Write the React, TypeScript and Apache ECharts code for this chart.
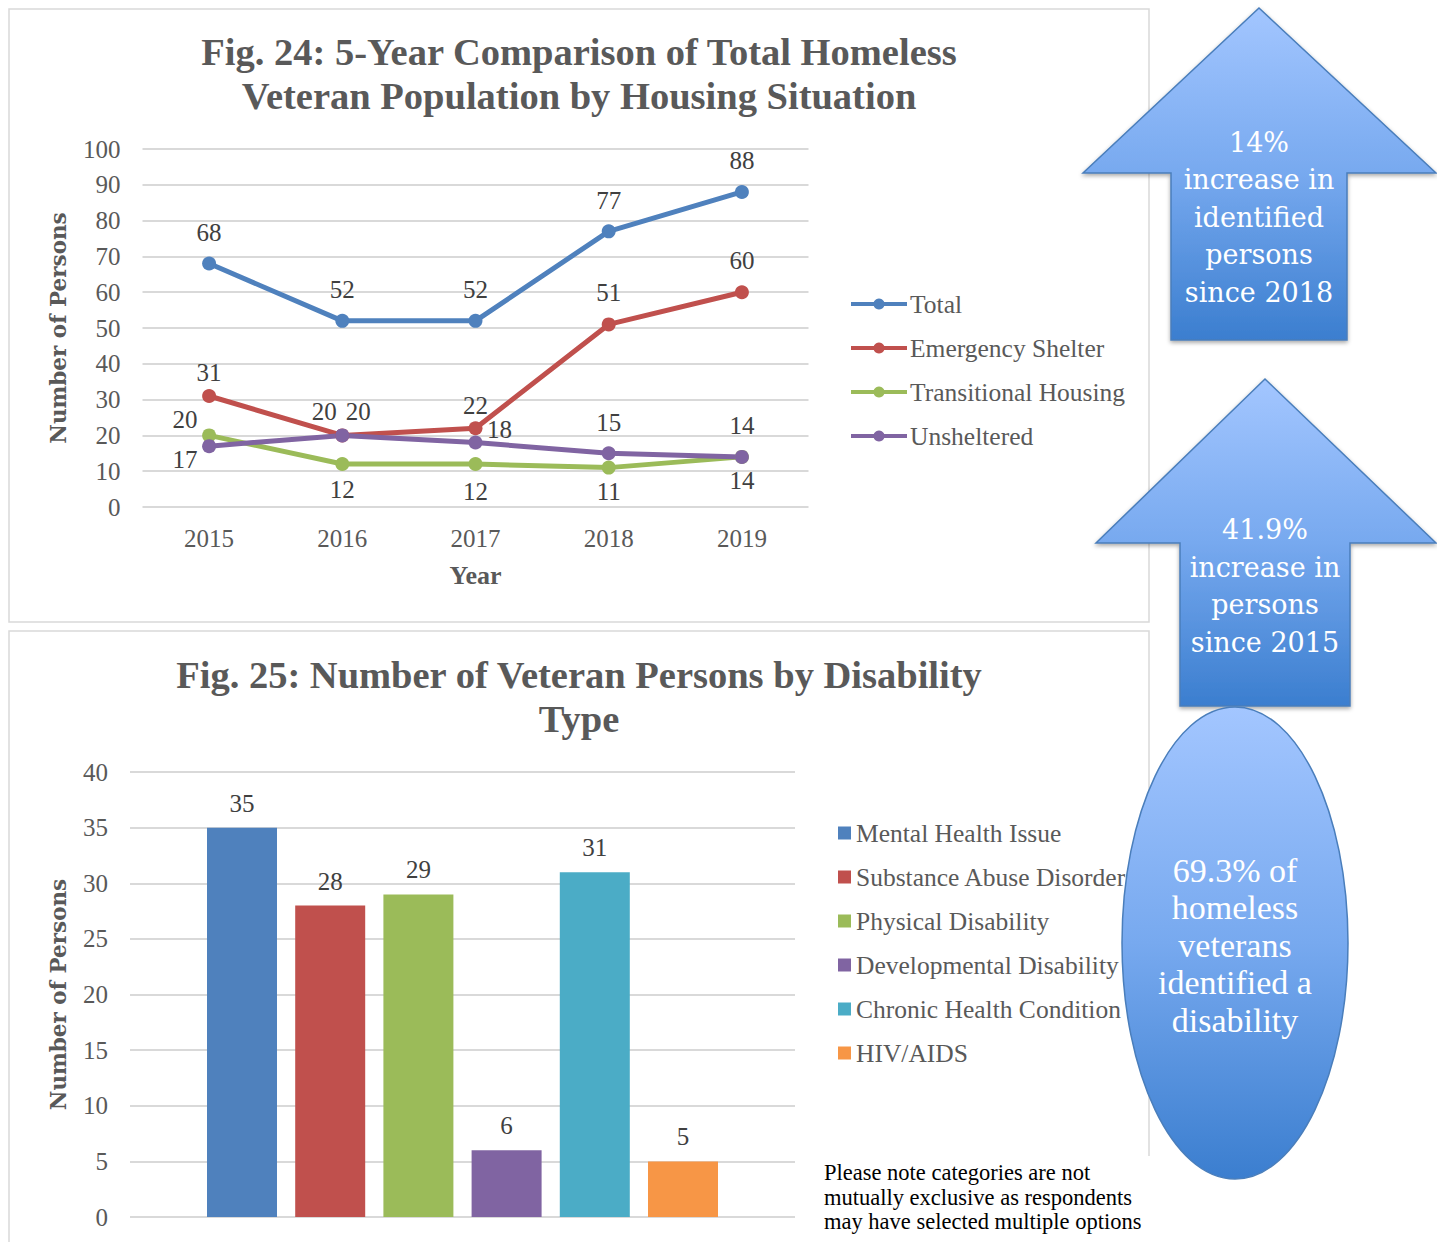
import React, { useEffect, useRef } from "react";
import * as echarts from "echarts";

const years = ["2015", "2016", "2017", "2018", "2019"];
const totalValues = [68, 52, 52, 77, 88];
const emergencyValues = [31, 20, 22, 51, 60];
const transitionalValues = [20, 12, 12, 11, 14];
const unshelteredValues = [17, 20, 18, 15, 14];
const lineSeriesNames = ["Total", "Emergency Shelter", "Transitional Housing", "Unsheltered"];
const lineColors = ["#4f81bd", "#c0504d", "#9bbb59", "#8064a2"];

const disabilityTypes = [
  "Mental Health Issue",
  "Substance Abuse Disorder",
  "Physical Disability",
  "Developmental Disability",
  "Chronic Health Condition",
  "HIV/AIDS",
];
const disabilityCounts = [35, 28, 29, 6, 31, 5];
const barColors = ["#4f81bd", "#c0504d", "#9bbb59", "#8064a2", "#4bacc6", "#f79646"];

const title1 = "Fig. 24: 5-Year Comparison of Total Homeless\nVeteran Population by Housing Situation";
const title2 = "Fig. 25: Number of Veteran Persons by Disability\nType";
const arrow1Text = "14%\nincrease in\nidentified\npersons\nsince 2018";
const arrow2Text = "41.9%\nincrease in\npersons\nsince 2015";
const ellipseText = "69.3% of\nhomeless\nveterans\nidentified a\ndisability";
const noteText = "Please note categories are not\nmutually exclusive as respondents\nmay have selected multiple options";

const FONT = "Liberation Serif";

// label offsets (styling) per line series
const labelOffsets: number[][][] = [
  [[0, -31], [0, -31], [0, -31], [0, -31], [0, -31]],
  [[0, -24], [-18, -24], [0, -23], [0, -32], [0, -32]],
  [[-24, -16], [0, 25], [0, 27], [0, 24], [0, 24]],
  [[-24, 13], [16, -24], [24, -13], [0, -31], [0, -31]],
];

export default function App() {
  const ref = useRef<HTMLDivElement>(null);
  useEffect(() => {
    if (!ref.current) return;
    const chart = echarts.init(ref.current, undefined, { renderer: "svg" });
    const lineData = [totalValues, emergencyValues, transitionalValues, unshelteredValues];

    const grad = () =>
      new echarts.graphic.LinearGradient(0, 0, 0, 1, [
        { offset: 0, color: "#a3c6ff" },
        { offset: 0.5, color: "#77a9ef" },
        { offset: 1, color: "#3b7ecf" },
      ]);

    const whiteText = (x: number, y: number, text: string, size: number, family: string, lh: number) => ({
      type: "text",
      x,
      y,
      z: 20,
      style: {
        text,
        fill: "#ffffff",
        fontSize: size,
        fontFamily: family,
        lineHeight: lh,
        align: "center",
        verticalAlign: "middle",
        textAlign: "center",
        textVerticalAlign: "middle",
      },
    });

    const titleText = (y: number, text: string) => ({
      type: "text",
      x: 579,
      y,
      style: {
        text,
        fill: "#595959",
        fontSize: 38.5,
        fontWeight: "bold",
        fontFamily: FONT,
        lineHeight: 44,
        align: "center",
        verticalAlign: "middle",
        textAlign: "center",
        textVerticalAlign: "middle",
      },
    });

    const option: any = {
      animation: false,
      textStyle: { fontFamily: FONT },
      grid: [
        { left: 142.5, right: 1437 - 808.5, top: 149, bottom: 1242 - 507 },
        { left: 130, right: 1437 - 795, top: 772, bottom: 1242 - 1217 },
      ],
      xAxis: [
        {
          type: "category",
          gridIndex: 0,
          data: years,
          boundaryGap: true,
          axisLine: { show: false },
          axisTick: { show: false },
          axisLabel: { fontSize: 25, color: "#595959", margin: 19, fontFamily: FONT },
          name: "Year",
          nameLocation: "middle",
          nameGap: 55,
          nameTextStyle: { fontSize: 26, fontWeight: "bold", color: "#595959", fontFamily: FONT },
        },
        {
          type: "category",
          gridIndex: 1,
          data: [""],
          axisLine: { show: false },
          axisTick: { show: false },
          axisLabel: { show: false },
        },
      ],
      yAxis: [
        {
          type: "value",
          gridIndex: 0,
          min: 0,
          max: 100,
          interval: 10,
          axisLine: { show: false },
          axisTick: { show: false },
          axisLabel: { fontSize: 25, color: "#595959", margin: 22, fontFamily: FONT },
          splitLine: { lineStyle: { color: "#d9d9d9", width: 2 } },
          name: "Number of Persons",
          nameLocation: "middle",
          nameRotate: 90,
          nameGap: 73,
          nameTextStyle: { fontSize: 21.5, fontWeight: "bold", color: "#595959", fontFamily: "DejaVu Serif" },
        },
        {
          type: "value",
          gridIndex: 1,
          min: 0,
          max: 40,
          interval: 5,
          axisLine: { show: false },
          axisTick: { show: false },
          axisLabel: { fontSize: 25, color: "#595959", margin: 22, fontFamily: FONT },
          splitLine: { lineStyle: { color: "#d9d9d9", width: 2 } },
          name: "Number of Persons",
          nameLocation: "middle",
          nameRotate: 90,
          nameGap: 61,
          nameTextStyle: { fontSize: 21.5, fontWeight: "bold", color: "#595959", fontFamily: "DejaVu Serif" },
        },
      ],
      legend: [
        {
          data: lineSeriesNames,
          orient: "vertical",
          left: 849,
          top: 291,
          padding: 0,
          itemWidth: 56,
          itemHeight: 14,
          itemGap: 18,
          lineStyle: { width: 4 },
          textStyle: { fontSize: 25.5, color: "#595959", lineHeight: 24, fontFamily: FONT, padding: [0, 0, 0, -2] },
        },
        {
          data: disabilityTypes,
          orient: "vertical",
          left: 838,
          top: 820,
          padding: 0,
          icon: "rect",
          itemWidth: 13,
          itemHeight: 13,
          itemGap: 18,
          textStyle: { fontSize: 25.5, color: "#595959", lineHeight: 24, fontFamily: FONT, padding: [0, 0, 0, 0] },
        },
      ],
      series: [
        ...lineSeriesNames.map((name, si) => ({
          type: "line",
          name,
          xAxisIndex: 0,
          yAxisIndex: 0,
          color: lineColors[si],
          symbol: "circle",
          symbolSize: 14,
          lineStyle: { width: 5, color: lineColors[si] },
          itemStyle: { color: lineColors[si] },
          emphasis: { disabled: true },
          label: {
            show: true,
            position: "inside",
            fontSize: 25,
            color: "#404040",
            fontFamily: FONT,
          },
          data: lineData[si].map((v, i) => ({
            value: v,
            label: { offset: labelOffsets[si][i] },
          })),
        })),
        ...disabilityTypes.map((name, si) => ({
          type: "bar",
          name,
          xAxisIndex: 1,
          yAxisIndex: 1,
          barWidth: 70,
          barGap: "26%",
          color: barColors[si],
          itemStyle: { color: barColors[si] },
          emphasis: { disabled: true },
          label: {
            show: true,
            position: "top",
            distance: 12,
            fontSize: 25,
            color: "#404040",
            fontFamily: FONT,
          },
          data: [disabilityCounts[si]],
        })),
      ],
      graphic: [
        {
          type: "rect",
          z: 0,
          shape: { x: 9, y: 9, width: 1140, height: 613 },
          style: { fill: "none", stroke: "#d9d9d9", lineWidth: 1.5 },
        },
        {
          type: "rect",
          z: 0,
          shape: { x: 9, y: 631, width: 1140, height: 640 },
          style: { fill: "none", stroke: "#d9d9d9", lineWidth: 1.5 },
        },
        titleText(74, title1),
        titleText(697, title2),
        {
          type: "rect",
          z: 5,
          shape: { x: 812, y: 1156, width: 340, height: 90 },
          style: { fill: "#ffffff" },
        },
        {
          type: "text",
          x: 824,
          y: 1197,
          z: 6,
          style: {
            text: noteText,
            fill: "#000000",
            fontSize: 22.5,
            fontFamily: FONT,
            lineHeight: 24.5,
            align: "left",
            verticalAlign: "middle",
            textAlign: "left",
            textVerticalAlign: "middle",
          },
        },
        {
          type: "polygon",
          z: 10,
          shape: {
            points: [
              [1259, 8],
              [1436, 173],
              [1347, 173],
              [1347, 340],
              [1171, 340],
              [1171, 173],
              [1083, 173],
            ],
          },
          style: {
            fill: grad(),
            stroke: "#4a7ebb",
            lineWidth: 1.5,
            shadowBlur: 4,
            shadowOffsetY: 2,
            shadowColor: "rgba(0,0,0,0.35)",
          },
        },
        whiteText(1259, 217, arrow1Text, 27, "DejaVu Serif", 37.5),
        {
          type: "polygon",
          z: 10,
          shape: {
            points: [
              [1265, 379],
              [1436, 543],
              [1350, 543],
              [1350, 706],
              [1180, 706],
              [1180, 543],
              [1096, 543],
            ],
          },
          style: {
            fill: grad(),
            stroke: "#4a7ebb",
            lineWidth: 1.5,
            shadowBlur: 4,
            shadowOffsetY: 2,
            shadowColor: "rgba(0,0,0,0.35)",
          },
        },
        whiteText(1265, 586, arrow2Text, 27, "DejaVu Serif", 37.5),
        {
          type: "ellipse",
          z: 12,
          shape: { cx: 1235, cy: 943, rx: 113, ry: 236 },
          style: {
            fill: grad(),
            stroke: "#4a7ebb",
            lineWidth: 1.5,
          },
        },
        { ...whiteText(1235, 945, ellipseText, 34, FONT, 37.5), z: 22 },
      ],
    };
    chart.setOption(option);
    return () => chart.dispose();
  }, []);
  return (
    <div
      ref={ref}
      style={{ position: "absolute", left: 0, top: 0, width: 1437, height: 1242, background: "#ffffff" }}
    />
  );
}
